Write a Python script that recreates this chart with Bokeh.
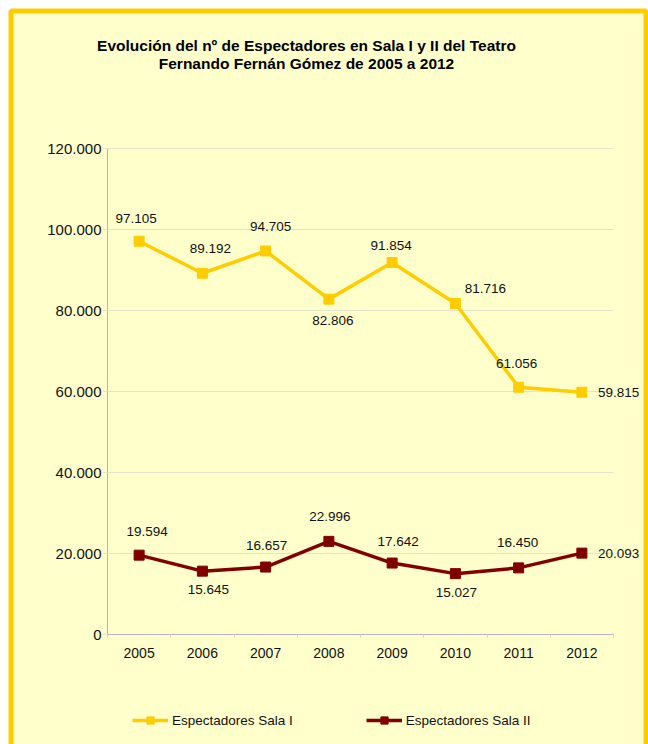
from bokeh.plotting import figure
from bokeh.models import (ColumnDataSource, Legend, LegendItem, CustomJSTickFormatter,
                          FixedTicker, Range1d, BoxAnnotation)
from bokeh.embed import file_html
from bokeh.resources import INLINE
from bokeh.core.properties import value, field

# ---------------- data ----------------
years = [2005, 2006, 2007, 2008, 2009, 2010, 2011, 2012]
sala1 = [97105, 89192, 94705, 82806, 91854, 81716, 61056, 59815]
sala2 = [19594, 15645, 16657, 22996, 17642, 15027, 16450, 20093]
y_ticks = [0, 20000, 40000, 60000, 80000, 100000, 120000]
series_names = ["Espectadores Sala I", "Espectadores Sala II"]
title_lines = ["Evolución del nº de Espectadores en Sala I y II del Teatro",
               "Fernando Fernán Gómez de 2005 a 2012"]

# ---------------- label placement (screen pixels, y down) ----------------
dx1 = [-3, 8, 5, 4, -1, 30, -2, 16]
dy1 = [-23, -25, -24, 21, -17, -15, -24, 0]
dx2 = [8, 6, 1, 1, 6, 1, -1, 16]
dy2 = [-24, 18, -22, -25, -22, 19, -25, 0]
al1 = ["center"] * 7 + ["left"]
al2 = ["center"] * 7 + ["left"]

GOLD = "#FFCC00"
MAROON = "#800000"
BG = "#FFFFCC"
GRID = "#E4E4CA"
AXIS = "#B4B4C4"
TXT = "#111111"
FONT = "Liberation Sans"

# ---------------- layout (page pixels) ----------------
W, H = 648, 744
PAGE_X0, PAGE_Y0 = 0, 0
CAT_W = 63.25              # pixels per year category
PX_PER_UNIT = 81 / 20000   # vertical pixels per spectator
AXIS_PAGE_X = 107
AXIS_PAGE_Y = 634

x_start = years[0] - 0.5 - (AXIS_PAGE_X - PAGE_X0) / CAT_W
x_end = x_start + W / CAT_W
y_start = -((PAGE_Y0 + H) - AXIS_PAGE_Y) / PX_PER_UNIT
y_end = y_start + H / PX_PER_UNIT


def page_x(px):
    return x_start + (px - PAGE_X0) / CAT_W


def page_y(py):
    return y_start + (PAGE_Y0 + H - py) / PX_PER_UNIT


def fmt(v):
    return f"{v:,}".replace(",", ".")


p = figure(width=W, height=H, x_range=Range1d(x_start, x_end), y_range=Range1d(y_start, y_end),
           output_backend="svg", toolbar_location=None, title=None, min_border=0)
p.background_fill_color = "white"
p.border_fill_color = "white"
p.outline_line_color = None
p.xgrid.visible = False
p.ygrid.visible = False

# light-yellow chart area with gold frame (open at the bottom, cut by the window)
p.add_layout(BoxAnnotation(left=page_x(10.5), right=page_x(645.5),
                           top=page_y(10.5), bottom=y_start - 100000,
                           fill_color=BG, fill_alpha=1,
                           line_color=GOLD, line_alpha=1, line_width=5,
                           level="underlay"))

x_lo, x_hi = years[0] - 0.5, years[-1] + 0.5

# axes drawn inside the frame
xa = p.xaxis[0]
ya = p.yaxis[0]
xa.fixed_location = 0
ya.fixed_location = x_lo
xa.bounds = (x_lo, x_hi)
ya.bounds = (0, y_ticks[-1])
xa.ticker = FixedTicker(ticks=years, minor_ticks=[y - 0.5 for y in years] + [x_hi])
xa.formatter = CustomJSTickFormatter(code="return tick.toFixed(0);")
ya.ticker = FixedTicker(ticks=y_ticks)
ya.formatter = CustomJSTickFormatter(
    code="return tick.toFixed(0).replace(/\\B(?=(\\d{3})+(?!\\d))/g, '.');")
for ax in (xa, ya):
    ax.axis_line_color = AXIS
    ax.axis_line_width = 1
    ax.major_label_text_font = FONT
    ax.major_label_text_color = TXT
xa.major_label_text_font_size = "14px"
ya.major_label_text_font_size = "15px"
xa.major_tick_line_color = None
xa.major_tick_out = 0
xa.major_tick_in = 0
xa.minor_tick_line_color = "#D4D4C8"
xa.minor_tick_out = 3
xa.minor_tick_in = 0
xa.major_label_standoff = 10
ya.major_tick_line_color = GRID
ya.major_tick_out = 5
ya.major_tick_in = 0
ya.minor_tick_line_color = None
ya.major_label_standoff = 1

# horizontal grid lines (only over the plotting area)
n = len(y_ticks) - 1
p.segment(x0=[x_lo] * n, x1=[x_hi] * n, y0=y_ticks[1:], y1=y_ticks[1:],
          line_color=GRID, line_width=1)

src1 = ColumnDataSource(dict(x=years, y=sala1, lab=[fmt(v) for v in sala1], dx=dx1, dy=dy1, al=al1))
src2 = ColumnDataSource(dict(x=years, y=sala2, lab=[fmt(v) for v in sala2], dx=dx2, dy=dy2, al=al2))

l1 = p.line("x", "y", source=src1, line_color=GOLD, line_width=3.5)
m1 = p.scatter("x", "y", source=src1, marker="square", size=10, fill_color=GOLD, line_color=GOLD)
l2 = p.line("x", "y", source=src2, line_color=MAROON, line_width=3.5)
m2 = p.scatter("x", "y", source=src2, marker="square", size=10, fill_color=MAROON, line_color=MAROON)

for s in (src1, src2):
    p.text("x", "y", text="lab", source=s, x_offset="dx", y_offset="dy",
           text_align=field("al"), text_baseline="middle",
           text_font=value(FONT), text_font_size="13.5px", text_color=TXT)

# title (two centred bold lines)
p.text(x=[page_x(306)] * 2, y=[page_y(45), page_y(63)], text=title_lines,
       text_align="center", text_baseline="middle", text_font=value(FONT),
       text_font_size="15.5px", text_font_style="bold", text_color="#000000")

legend = Legend(items=[LegendItem(label=series_names[0], renderers=[l1, m1]),
                       LegendItem(label=series_names[1], renderers=[l2, m2])],
                location=(132, 15), orientation="horizontal",
                glyph_width=36, glyph_height=18, label_standoff=4, spacing=73,
                padding=0, margin=0, border_line_color=None, background_fill_alpha=0,
                label_text_font=FONT, label_text_font_size="13.5px", label_text_color=TXT)
p.add_layout(legend, "center")

open("out.html", "w").write(file_html(p, INLINE))
